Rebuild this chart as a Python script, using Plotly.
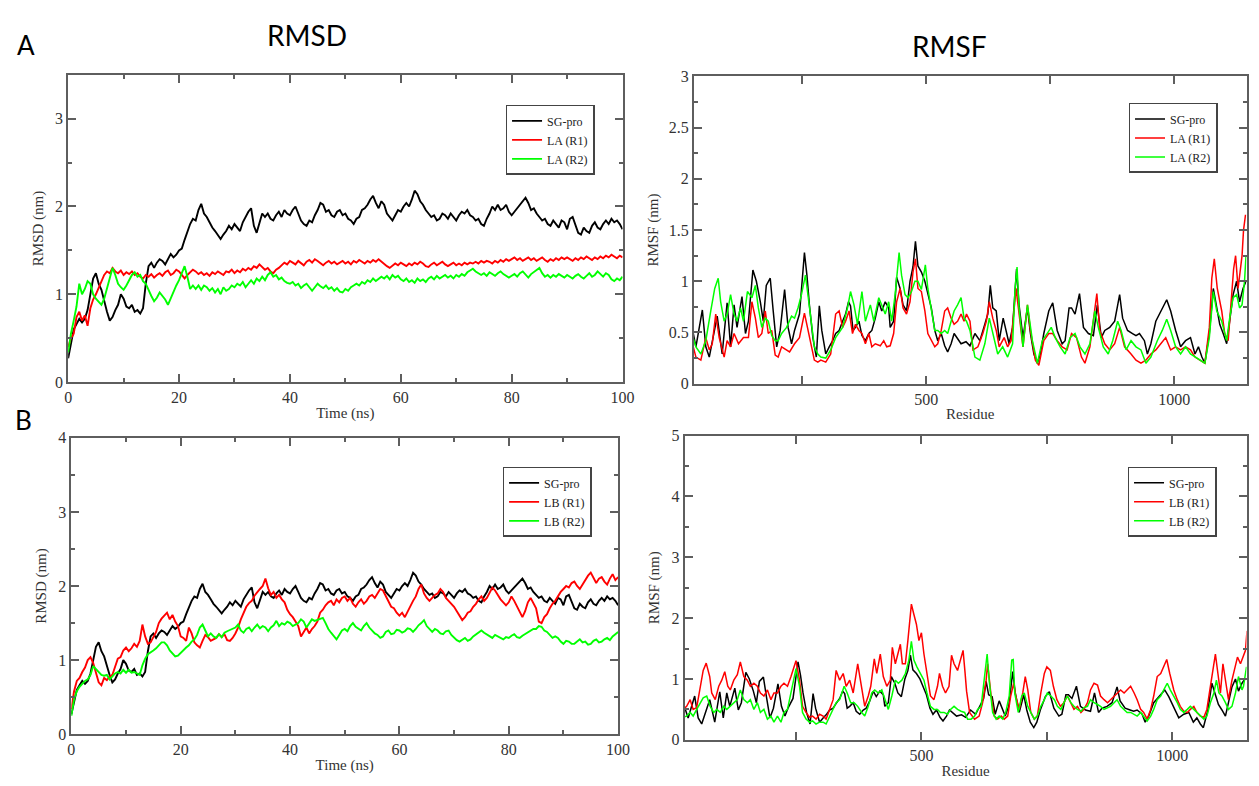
import plotly.graph_objects as go

# ---------------------------------------------------------------
# RMSD time series (nm), sampled every 0.5 ns from 0 to 100 ns
# ---------------------------------------------------------------
time_ns = [i * 0.5 for i in range(201)]

sg_pro_rmsd = [
    0.27, 0.45, 0.60, 0.66, 0.72, 0.68, 0.72, 0.82, 1.02, 1.18,
    1.24, 1.12, 1.05, 0.92, 0.80, 0.70, 0.74, 0.82, 0.88, 1.00,
    0.95, 0.86, 0.84, 0.88, 0.80, 0.82, 0.78, 0.84, 1.12, 1.32,
    1.36, 1.30, 1.36, 1.40, 1.38, 1.34, 1.40, 1.46, 1.42, 1.45,
    1.50, 1.52, 1.62, 1.72, 1.80, 1.86, 1.84, 1.96, 2.03, 1.92,
    1.88, 1.82, 1.76, 1.72, 1.68, 1.63, 1.68, 1.72, 1.78, 1.74,
    1.80, 1.76, 1.72, 1.82, 1.88, 1.94, 1.98, 1.78, 1.70, 1.82,
    1.92, 1.88, 1.92, 1.86, 1.84, 1.90, 1.94, 1.88, 1.96, 1.92,
    1.90, 1.96, 2.00, 1.92, 1.84, 1.80, 1.78, 1.84, 1.82, 1.90,
    1.96, 2.04, 2.02, 1.94, 1.96, 1.90, 1.88, 1.94, 1.96, 1.90,
    1.92, 1.86, 1.84, 1.80, 1.86, 1.88, 1.96, 1.98, 2.02, 2.08,
    2.12, 2.04, 1.98, 2.06, 2.02, 1.92, 1.88, 1.84, 1.90, 1.96,
    1.94, 2.00, 2.04, 2.00, 2.08, 2.18, 2.14, 2.06, 2.02, 1.96,
    1.92, 1.88, 1.90, 1.84, 1.86, 1.92, 1.90, 1.86, 1.92, 1.88,
    1.84, 1.90, 1.94, 1.92, 1.96, 1.90, 1.88, 1.84, 1.86, 1.80,
    1.78, 1.86, 1.92, 2.00, 1.96, 2.02, 1.96, 1.98, 2.02, 1.94,
    1.90, 1.94, 1.98, 2.02, 2.06, 2.10, 2.04, 1.96, 1.98, 1.92,
    1.88, 1.84, 1.86, 1.80, 1.78, 1.84, 1.80, 1.76, 1.84, 1.82,
    1.74, 1.86, 1.88, 1.78, 1.70, 1.68, 1.76, 1.72, 1.70, 1.78,
    1.82, 1.76, 1.74, 1.80, 1.84, 1.80, 1.86, 1.82, 1.84, 1.80,
    1.74,
]

la_r1_rmsd = [
    0.40, 0.50, 0.55, 0.74, 0.80, 0.70, 0.76, 0.64, 0.84, 0.94,
    1.00, 1.08, 1.16, 1.22, 1.26, 1.24, 1.30, 1.26, 1.24, 1.27,
    1.22, 1.25, 1.23, 1.26, 1.22, 1.24, 1.20, 1.18, 1.22, 1.20,
    1.23, 1.19, 1.22, 1.24, 1.21, 1.25, 1.27, 1.22, 1.24, 1.28,
    1.26, 1.22, 1.18, 1.22, 1.25, 1.28, 1.26, 1.23, 1.25, 1.22,
    1.24, 1.21, 1.25, 1.23, 1.26, 1.24, 1.22, 1.26, 1.25, 1.28,
    1.24, 1.27, 1.25, 1.29, 1.27, 1.30, 1.28, 1.32, 1.30, 1.34,
    1.31, 1.28, 1.30, 1.26, 1.24, 1.28, 1.30, 1.33, 1.36, 1.34,
    1.38, 1.36, 1.34, 1.38, 1.36, 1.33, 1.37, 1.39, 1.36, 1.40,
    1.38, 1.35, 1.33, 1.36, 1.38, 1.35, 1.37, 1.34, 1.36, 1.38,
    1.35, 1.37, 1.34, 1.38, 1.36, 1.39, 1.37, 1.35, 1.38, 1.36,
    1.39, 1.37, 1.40, 1.37, 1.35, 1.32, 1.30, 1.33, 1.35, 1.33,
    1.36, 1.34, 1.32, 1.35, 1.33, 1.36, 1.34, 1.37, 1.35, 1.32,
    1.31, 1.34, 1.36, 1.33, 1.35, 1.37, 1.34, 1.32, 1.34, 1.36,
    1.33, 1.35, 1.33, 1.36, 1.34, 1.36, 1.35, 1.37, 1.35, 1.38,
    1.36, 1.38, 1.37, 1.35, 1.38, 1.36, 1.39, 1.37, 1.40, 1.38,
    1.40, 1.42, 1.39, 1.41, 1.38, 1.40, 1.42, 1.39, 1.41, 1.38,
    1.40, 1.42, 1.39, 1.37, 1.40, 1.38, 1.41, 1.39, 1.42, 1.40,
    1.42, 1.40, 1.38, 1.41, 1.39, 1.42, 1.40, 1.43, 1.41, 1.39,
    1.42, 1.40, 1.43, 1.41, 1.44, 1.42, 1.45, 1.43, 1.41, 1.44,
    1.42,
]

la_r2_rmsd = [
    0.34, 0.55, 0.70, 0.86, 1.12, 1.00, 1.06, 1.15, 1.12, 1.00,
    0.95, 0.92, 0.88, 0.95, 1.06, 1.18, 1.30, 1.22, 1.12, 1.08,
    1.05, 1.10, 1.16, 1.22, 1.25, 1.20, 1.22, 1.15, 1.12, 1.04,
    0.98, 0.92, 0.96, 1.02, 0.98, 0.94, 0.88, 0.96, 1.04, 1.10,
    1.16, 1.24, 1.32, 1.20, 1.06, 1.10, 1.06, 1.10, 1.05, 1.10,
    1.08, 1.04, 1.07, 1.02, 1.06, 1.00, 1.08, 1.04, 1.06, 1.10,
    1.08, 1.12, 1.10, 1.14, 1.08, 1.12, 1.16, 1.12, 1.18, 1.15,
    1.20, 1.16, 1.22, 1.25, 1.20, 1.22, 1.17, 1.19, 1.15, 1.13,
    1.12, 1.14, 1.10, 1.12, 1.07, 1.10, 1.12, 1.08, 1.04, 1.08,
    1.12, 1.09, 1.07, 1.10, 1.06, 1.08, 1.04, 1.07, 1.03, 1.02,
    1.06, 1.04, 1.08, 1.10, 1.12, 1.10, 1.14, 1.12, 1.16, 1.14,
    1.18, 1.15, 1.17, 1.20, 1.18, 1.21, 1.17, 1.22, 1.19, 1.21,
    1.17, 1.15, 1.18, 1.14, 1.16, 1.13, 1.18, 1.15, 1.17, 1.14,
    1.18, 1.20, 1.17, 1.21, 1.18, 1.20, 1.22, 1.19, 1.21, 1.18,
    1.22, 1.20, 1.23, 1.21, 1.25, 1.27, 1.29, 1.26, 1.24, 1.22,
    1.24, 1.21, 1.25, 1.23, 1.21, 1.24, 1.26, 1.23, 1.21, 1.19,
    1.21, 1.23, 1.20, 1.24, 1.26, 1.22, 1.19, 1.23, 1.25, 1.28,
    1.30, 1.24, 1.20, 1.22, 1.19, 1.22, 1.20, 1.23, 1.21, 1.19,
    1.22, 1.20, 1.18, 1.21, 1.23, 1.20, 1.18, 1.21, 1.24, 1.20,
    1.22, 1.26, 1.23, 1.20, 1.24, 1.22, 1.17, 1.15, 1.18, 1.16,
    1.20,
]

lb_r1_rmsd = [
    0.34, 0.58, 0.72, 0.76, 0.84, 0.90, 1.00, 1.04, 0.96, 0.82,
    0.70, 0.66, 0.76, 0.73, 0.78, 0.80, 0.92, 1.02, 1.04, 1.13,
    1.17, 1.12, 1.16, 1.22, 1.18, 1.26, 1.48, 1.32, 1.22, 1.24,
    1.31, 1.38, 1.50, 1.56, 1.60, 1.64, 1.55, 1.61, 1.52, 1.46,
    1.32, 1.30, 1.26, 1.44, 1.36, 1.24, 1.20, 1.17, 1.26, 1.34,
    1.31, 1.26, 1.28, 1.30, 1.35, 1.31, 1.35, 1.27, 1.26, 1.30,
    1.36, 1.44, 1.55, 1.63, 1.72, 1.77, 1.80, 1.87, 1.92, 1.96,
    2.00, 2.10, 1.97, 1.88, 1.92, 1.84, 1.88, 1.82, 1.78, 1.68,
    1.62, 1.58, 1.52, 1.46, 1.32, 1.38, 1.44, 1.36, 1.42, 1.46,
    1.52, 1.64, 1.68, 1.74, 1.78, 1.80, 1.74, 1.82, 1.78, 1.84,
    1.86, 1.80, 1.84, 1.76, 1.72, 1.78, 1.82, 1.76, 1.80, 1.86,
    1.88, 1.84, 1.90, 1.96, 1.94, 1.86, 1.80, 1.72, 1.70, 1.64,
    1.60, 1.64, 1.58, 1.66, 1.74, 1.80, 1.86, 1.96, 2.02, 1.90,
    1.84, 1.80, 1.84, 1.88, 1.90, 1.96, 1.92, 1.84, 1.80, 1.76,
    1.72, 1.66, 1.60, 1.54, 1.58, 1.64, 1.66, 1.72, 1.76, 1.82,
    1.86, 1.80, 1.84, 1.92, 1.98, 1.94, 1.88, 1.82, 1.78, 1.74,
    1.78, 1.86, 1.80, 1.72, 1.64, 1.58, 1.66, 1.78, 1.84, 1.76,
    1.70, 1.52, 1.50, 1.58, 1.62, 1.70, 1.76, 1.80, 1.86, 1.92,
    1.96, 2.00, 1.98, 2.04, 2.06, 2.00, 1.96, 2.02, 2.08, 2.14,
    2.18, 2.10, 2.04, 2.10, 2.12, 2.06, 2.02, 2.10, 2.16, 2.08,
    2.12,
]

lb_r2_rmsd = [
    0.25, 0.47, 0.58, 0.64, 0.68, 0.72, 0.74, 0.80, 0.92, 0.88,
    0.84, 0.80, 0.79, 0.80, 0.74, 0.78, 0.82, 0.84, 0.82, 0.87,
    0.83, 0.87, 0.83, 0.84, 0.82, 0.80, 0.93, 1.02, 1.08, 1.10,
    1.13, 1.16, 1.20, 1.24, 1.24, 1.20, 1.13, 1.09, 1.05, 1.06,
    1.10, 1.13, 1.17, 1.20, 1.25, 1.28, 1.34, 1.44, 1.48, 1.40,
    1.32, 1.36, 1.32, 1.30, 1.35, 1.31, 1.37, 1.39, 1.41, 1.43,
    1.44, 1.48, 1.40, 1.37, 1.42, 1.44, 1.39, 1.44, 1.48, 1.43,
    1.46, 1.44, 1.39, 1.44, 1.47, 1.53, 1.46, 1.50, 1.48, 1.52,
    1.50, 1.46, 1.48, 1.50, 1.55, 1.52, 1.44, 1.50, 1.55, 1.53,
    1.54, 1.55, 1.57, 1.50, 1.42, 1.37, 1.33, 1.28, 1.34, 1.40,
    1.42, 1.39, 1.46, 1.50, 1.45, 1.42, 1.40, 1.46, 1.50, 1.44,
    1.40, 1.36, 1.34, 1.30, 1.32, 1.38, 1.40, 1.35, 1.36, 1.41,
    1.40, 1.37, 1.39, 1.43, 1.42, 1.38, 1.42, 1.47, 1.50, 1.54,
    1.46, 1.42, 1.38, 1.42, 1.40, 1.36, 1.35, 1.39, 1.40, 1.34,
    1.30, 1.27, 1.25, 1.28, 1.30, 1.26, 1.28, 1.32, 1.35, 1.38,
    1.40, 1.37, 1.35, 1.32, 1.30, 1.34, 1.32, 1.29, 1.28, 1.31,
    1.30, 1.33, 1.35, 1.31, 1.30, 1.33, 1.35, 1.38, 1.40, 1.42,
    1.42, 1.46, 1.45, 1.40, 1.38, 1.34, 1.30, 1.32, 1.30, 1.25,
    1.22, 1.26, 1.25, 1.22, 1.22, 1.25, 1.28, 1.24, 1.25, 1.21,
    1.22, 1.26, 1.28, 1.24, 1.25, 1.28, 1.30, 1.27, 1.32, 1.35,
    1.38,
]

# ---------------------------------------------------------------
# RMSF per residue (nm): (residue, value) pairs
# ---------------------------------------------------------------
sg_pro_rmsf = [
    (25, 0.61), (35, 0.36), (48, 0.72), (55, 0.36), (62, 0.26), (72, 0.52),
    (78, 0.66), (88, 0.29), (98, 0.79), (105, 0.36), (112, 0.77), (118, 0.55),
    (128, 0.85), (135, 0.49), (141, 0.61), (150, 1.11), (157, 1.00), (165, 0.80),
    (171, 0.61), (177, 0.96), (185, 1.03), (191, 0.71), (198, 0.36), (205, 0.52),
    (214, 0.92), (221, 0.55), (228, 0.39), (234, 0.52), (244, 0.68), (254, 1.28),
    (259, 1.06), (264, 0.77), (271, 0.45), (278, 0.26), (284, 0.76), (289, 0.52),
    (297, 0.29), (304, 0.36), (311, 0.42), (317, 0.49), (324, 0.52), (331, 0.61),
    (337, 0.68), (343, 0.80), (347, 0.76), (352, 0.52), (357, 0.55), (364, 0.61),
    (370, 0.47), (377, 0.42), (384, 0.49), (390, 0.52), (397, 0.64), (404, 0.80),
    (410, 0.71), (417, 0.80), (424, 0.74), (427, 0.55), (434, 0.61), (440, 1.04),
    (447, 0.93), (453, 0.77), (460, 0.71), (467, 1.00), (473, 1.14), (478, 1.39),
    (483, 1.15), (490, 1.09), (497, 1.00), (503, 0.88), (510, 0.74), (517, 0.52),
    (523, 0.42), (530, 0.49), (537, 0.37), (543, 0.31), (550, 0.39), (556, 0.49),
    (563, 0.44), (570, 0.39), (580, 0.41), (588, 0.37), (598, 0.49), (608, 0.42),
    (618, 0.58), (624, 0.68), (629, 0.96), (634, 0.74), (641, 0.71), (647, 0.42),
    (655, 0.64), (661, 0.52), (667, 0.39), (674, 0.55), (682, 1.12), (687, 0.77),
    (695, 0.45), (704, 0.74), (710, 0.49), (717, 0.29), (724, 0.20), (730, 0.29),
    (737, 0.49), (747, 0.71), (755, 0.79), (764, 0.52), (774, 0.39), (780, 0.42),
    (788, 0.74), (793, 0.74), (800, 0.68), (809, 0.88), (817, 0.55), (827, 0.49),
    (837, 0.47), (845, 0.77), (853, 0.45), (860, 0.52), (870, 0.55), (880, 0.61),
    (890, 0.87), (896, 0.64), (906, 0.52), (916, 0.49), (923, 0.47), (930, 0.49),
    (940, 0.42), (946, 0.29), (953, 0.39), (963, 0.61), (973, 0.71), (985, 0.82),
    (993, 0.71), (1003, 0.52), (1013, 0.36), (1023, 0.42), (1033, 0.45), (1042, 0.29),
    (1049, 0.36), (1056, 0.26), (1062, 0.20), (1071, 0.49), (1079, 0.93), (1086, 0.74),
    (1092, 0.58), (1099, 0.49), (1106, 0.39), (1112, 0.61), (1119, 0.87), (1126, 1.00),
    (1132, 0.80), (1139, 0.93), (1145, 1.00),
]

la_r1_rmsf = [
    (25, 0.45), (35, 0.26), (45, 0.23), (55, 0.45), (62, 0.33), (68, 0.39),
    (75, 0.68), (82, 0.45), (92, 0.26), (98, 0.42), (105, 0.36), (112, 0.49),
    (121, 0.39), (131, 0.45), (141, 0.45), (148, 0.80), (155, 0.64), (161, 0.45),
    (168, 0.49), (175, 0.71), (181, 0.49), (188, 0.52), (195, 0.28), (201, 0.26),
    (208, 0.36), (218, 0.33), (224, 0.31), (234, 0.39), (244, 0.45), (254, 0.69),
    (261, 0.52), (268, 0.36), (274, 0.23), (281, 0.21), (287, 0.23), (297, 0.21),
    (307, 0.29), (317, 0.68), (324, 0.71), (331, 0.55), (337, 0.61), (344, 0.71),
    (351, 0.49), (357, 0.58), (364, 0.52), (370, 0.49), (377, 0.39), (384, 0.49),
    (390, 0.36), (397, 0.39), (407, 0.37), (414, 0.42), (420, 0.36), (427, 0.37),
    (434, 0.49), (440, 0.80), (447, 0.93), (453, 0.74), (460, 0.68), (467, 0.80),
    (473, 1.09), (478, 1.22), (483, 0.93), (490, 0.90), (497, 0.71), (503, 0.49),
    (510, 0.42), (517, 0.36), (523, 0.39), (530, 0.52), (537, 0.71), (543, 0.74),
    (550, 0.64), (556, 0.58), (563, 0.61), (570, 0.68), (576, 0.61), (581, 0.68),
    (588, 0.61), (594, 0.33), (604, 0.36), (614, 0.49), (621, 0.61), (627, 0.80),
    (634, 0.64), (641, 0.52), (647, 0.36), (657, 0.45), (664, 0.36), (671, 0.42),
    (681, 0.93), (687, 0.68), (695, 0.36), (704, 0.77), (710, 0.52), (720, 0.23),
    (727, 0.18), (737, 0.42), (747, 0.49), (755, 0.49), (764, 0.42), (774, 0.36),
    (784, 0.33), (793, 0.49), (803, 0.45), (813, 0.26), (820, 0.20), (830, 0.36),
    (839, 0.68), (844, 0.88), (850, 0.52), (860, 0.39), (870, 0.33), (880, 0.39),
    (890, 0.55), (900, 0.36), (913, 0.29), (923, 0.23), (933, 0.20), (943, 0.23),
    (953, 0.29), (963, 0.33), (973, 0.39), (983, 0.45), (993, 0.33), (1003, 0.36),
    (1013, 0.33), (1023, 0.36), (1033, 0.33), (1042, 0.26), (1052, 0.23), (1062, 0.20),
    (1071, 0.55), (1076, 1.03), (1081, 1.22), (1087, 0.93), (1096, 0.71), (1102, 0.49),
    (1109, 0.42), (1116, 0.84), (1120, 1.12), (1124, 1.25), (1129, 0.93), (1133, 1.09),
    (1137, 1.25), (1140, 1.50), (1144, 1.65),
]

la_r2_rmsf = [
    (25, 0.52), (35, 0.36), (45, 0.29), (55, 0.42), (65, 0.71), (73, 0.93),
    (80, 1.03), (85, 0.80), (92, 0.61), (98, 0.68), (105, 0.87), (112, 0.68),
    (118, 0.61), (125, 0.74), (131, 0.61), (139, 0.90), (148, 0.84), (155, 0.96),
    (161, 0.74), (168, 0.55), (175, 0.64), (181, 0.61), (188, 0.47), (195, 0.42),
    (201, 0.42), (208, 0.49), (218, 0.55), (228, 0.66), (234, 0.64), (241, 0.74),
    (248, 0.87), (256, 1.06), (261, 0.87), (268, 0.61), (274, 0.36), (281, 0.29),
    (287, 0.26), (297, 0.25), (307, 0.33), (317, 0.45), (331, 0.55), (341, 0.74),
    (347, 0.90), (354, 0.77), (361, 0.58), (370, 0.90), (377, 0.61), (387, 0.77),
    (394, 0.61), (404, 0.84), (410, 0.77), (417, 0.68), (424, 0.80), (430, 0.61),
    (437, 0.87), (445, 1.28), (450, 1.06), (457, 0.87), (463, 0.84), (470, 0.90),
    (477, 1.00), (483, 1.00), (490, 0.92), (498, 1.16), (503, 0.93), (510, 0.71),
    (517, 0.52), (523, 0.52), (530, 0.49), (537, 0.52), (543, 0.49), (550, 0.61),
    (556, 0.71), (563, 0.77), (570, 0.84), (576, 0.64), (581, 0.61), (588, 0.52),
    (598, 0.26), (608, 0.23), (618, 0.39), (627, 0.64), (634, 0.49), (644, 0.29),
    (654, 0.36), (664, 0.26), (674, 0.39), (679, 0.93), (683, 1.14), (687, 0.74),
    (695, 0.36), (704, 0.77), (714, 0.42), (724, 0.20), (734, 0.42), (744, 0.49),
    (752, 0.55), (760, 0.45), (770, 0.36), (780, 0.29), (790, 0.45), (800, 0.49),
    (810, 0.36), (820, 0.29), (830, 0.39), (840, 0.71), (847, 0.55), (857, 0.36),
    (867, 0.29), (876, 0.42), (886, 0.61), (893, 0.52), (903, 0.33), (913, 0.42),
    (923, 0.36), (933, 0.33), (943, 0.20), (953, 0.26), (966, 0.42), (976, 0.52),
    (985, 0.63), (993, 0.52), (1003, 0.36), (1013, 0.29), (1023, 0.36), (1033, 0.29),
    (1042, 0.26), (1052, 0.23), (1062, 0.20), (1071, 0.45), (1079, 0.90), (1086, 0.71),
    (1096, 0.61), (1106, 0.42), (1112, 0.64), (1119, 0.84), (1126, 0.87), (1132, 0.74),
    (1137, 0.77), (1142, 1.00), (1145, 1.25),
]

lb_r1_rmsf = [
    (25, 0.50), (32, 0.55), (39, 0.66), (45, 0.50), (52, 0.53), (59, 0.88),
    (65, 1.14), (71, 1.26), (78, 1.04), (82, 0.77), (89, 0.66), (96, 0.88),
    (102, 0.98), (108, 1.12), (114, 0.88), (119, 0.82), (126, 0.98), (133, 1.07),
    (139, 1.28), (146, 1.04), (153, 0.98), (159, 0.88), (166, 0.93), (173, 0.88),
    (179, 0.77), (186, 0.72), (193, 0.82), (200, 0.66), (206, 0.77), (213, 0.77),
    (220, 0.88), (226, 0.93), (233, 0.88), (240, 1.04), (250, 1.30), (257, 0.98),
    (263, 0.55), (270, 0.45), (277, 0.37), (283, 0.39), (290, 0.34), (297, 0.42),
    (304, 0.39), (310, 0.34), (317, 0.50), (324, 0.66), (330, 1.14), (337, 0.98),
    (344, 1.09), (350, 0.88), (357, 0.98), (364, 0.77), (373, 1.25), (381, 0.88),
    (387, 0.55), (394, 0.72), (399, 0.88), (406, 1.33), (411, 1.09), (418, 1.41),
    (424, 1.04), (431, 0.88), (438, 0.98), (442, 1.52), (448, 1.25), (453, 1.41),
    (458, 1.57), (462, 1.25), (468, 1.25), (473, 1.63), (480, 2.23), (485, 2.06),
    (490, 1.90), (495, 1.63), (500, 1.76), (505, 1.41), (511, 1.09), (518, 0.72),
    (525, 0.66), (532, 0.88), (536, 1.09), (542, 0.88), (548, 0.77), (555, 0.88),
    (560, 1.39), (565, 1.25), (572, 1.14), (578, 1.30), (583, 1.47), (587, 1.10),
    (590, 0.80), (596, 0.45), (606, 0.34), (615, 0.39), (622, 0.61), (629, 0.98),
    (632, 1.25), (639, 0.72), (645, 0.39), (652, 0.34), (659, 0.39), (665, 0.34),
    (672, 0.39), (678, 0.72), (684, 0.93), (688, 0.72), (695, 0.50), (702, 0.77),
    (707, 1.04), (712, 0.82), (718, 0.45), (725, 0.34), (731, 0.39), (738, 0.77),
    (745, 1.09), (750, 1.20), (757, 1.14), (763, 0.88), (770, 0.66), (777, 0.55),
    (784, 0.61), (791, 0.72), (798, 0.61), (804, 0.50), (811, 0.55), (818, 0.45),
    (824, 0.50), (831, 0.61), (837, 0.82), (844, 0.93), (851, 0.90), (857, 0.72),
    (864, 0.66), (871, 0.61), (877, 0.66), (884, 0.72), (890, 0.77), (897, 0.82),
    (904, 0.77), (910, 0.82), (917, 0.88), (924, 0.77), (930, 0.66), (937, 0.50),
    (943, 0.45), (950, 0.34), (957, 0.50), (963, 0.72), (970, 1.04), (977, 1.09),
    (983, 1.20), (989, 1.32), (995, 1.09), (1003, 0.82), (1010, 0.66), (1016, 0.55),
    (1023, 0.47), (1030, 0.45), (1036, 0.50), (1043, 0.55), (1049, 0.45), (1056, 0.39),
    (1063, 0.37), (1069, 0.50), (1076, 0.88), (1081, 1.14), (1086, 1.41), (1091, 1.09),
    (1096, 0.77), (1101, 1.25), (1106, 0.98), (1112, 0.66), (1119, 0.98), (1126, 1.20),
    (1130, 1.36), (1136, 1.25), (1141, 1.36), (1146, 1.47), (1149, 1.79),
]

lb_r2_rmsf = [
    (25, 0.37), (32, 0.39), (39, 0.45), (45, 0.39), (52, 0.50), (59, 0.61),
    (65, 0.69), (72, 0.72), (79, 0.55), (86, 0.45), (92, 0.50), (99, 0.45),
    (106, 0.55), (112, 0.50), (119, 0.55), (126, 0.61), (133, 0.66), (139, 0.82),
    (146, 0.66), (153, 0.61), (159, 0.66), (166, 0.50), (173, 0.61), (179, 0.45),
    (186, 0.50), (193, 0.34), (200, 0.39), (206, 0.29), (213, 0.39), (220, 0.29),
    (226, 0.45), (233, 0.50), (240, 0.77), (250, 1.17), (257, 0.88), (263, 0.45),
    (270, 0.34), (277, 0.29), (283, 0.31), (290, 0.26), (297, 0.29), (304, 0.29),
    (310, 0.26), (317, 0.39), (324, 0.50), (330, 0.61), (337, 0.66), (346, 0.88),
    (352, 0.77), (359, 0.61), (366, 0.61), (373, 0.55), (381, 0.45), (387, 0.39),
    (394, 0.55), (401, 0.77), (407, 0.82), (414, 0.77), (421, 0.82), (428, 0.66),
    (434, 0.50), (441, 0.72), (448, 0.98), (454, 0.93), (461, 0.98), (468, 1.09),
    (475, 1.31), (480, 1.62), (485, 1.31), (491, 1.20), (498, 1.09), (505, 0.98),
    (511, 0.77), (518, 0.55), (525, 0.50), (532, 0.50), (538, 0.45), (545, 0.45),
    (552, 0.42), (558, 0.50), (565, 0.55), (572, 0.50), (579, 0.47), (586, 0.45),
    (592, 0.34), (599, 0.34), (606, 0.39), (612, 0.50), (619, 0.55), (625, 0.98),
    (631, 1.41), (635, 0.98), (642, 0.45), (649, 0.34), (655, 0.39), (662, 0.34),
    (668, 0.45), (675, 0.72), (680, 1.31), (683, 1.32), (686, 0.77), (693, 0.45),
    (700, 0.72), (705, 0.77), (712, 0.55), (718, 0.45), (725, 0.34), (731, 0.39),
    (738, 0.55), (745, 0.66), (751, 0.77), (758, 0.72), (765, 0.66), (771, 0.55),
    (778, 0.50), (784, 0.61), (791, 0.72), (798, 0.61), (804, 0.55), (811, 0.50),
    (818, 0.47), (824, 0.53), (831, 0.55), (837, 0.66), (844, 0.61), (851, 0.58),
    (857, 0.55), (864, 0.50), (871, 0.53), (877, 0.55), (884, 0.61), (890, 0.66),
    (897, 0.55), (904, 0.50), (910, 0.45), (917, 0.45), (924, 0.42), (930, 0.39),
    (937, 0.45), (943, 0.39), (950, 0.31), (957, 0.39), (963, 0.50), (970, 0.66),
    (977, 0.72), (983, 0.82), (990, 0.93), (996, 0.82), (1003, 0.72), (1010, 0.61),
    (1016, 0.50), (1023, 0.45), (1030, 0.50), (1036, 0.55), (1043, 0.50), (1049, 0.45),
    (1056, 0.39), (1063, 0.34), (1069, 0.39), (1076, 0.61), (1083, 0.77), (1088, 0.98),
    (1093, 0.77), (1099, 0.72), (1106, 0.61), (1112, 0.50), (1119, 0.55), (1126, 0.77),
    (1132, 1.04), (1139, 0.82), (1142, 0.88), (1148, 1.20),
]

# Series names and colours (xmgrace-style palette)
names_a = ["SG-pro", "LA (R1)", "LA (R2)"]
names_b = ["SG-pro", "LB (R1)", "LB (R2)"]
colors = ["#000000", "#ff0000", "#00ff00"]

W, H = 1259, 786
SERIF = "Liberation Serif, Times New Roman, serif"
AXIS_COL = "#5e5e5e"


def px(x):
    return x / W


def py(y):
    return 1 - y / H


def unzip(pairs):
    return [p[0] for p in pairs], [p[1] for p in pairs]


fig = go.Figure()

panels = [
    # (xaxis id, yaxis id, legend id, names, series, is_rmsf, width)
    ("x", "y", "legend", names_a, [sg_pro_rmsd, la_r1_rmsd, la_r2_rmsd], False, 1.9),
    ("x2", "y2", "legend2", names_a, [sg_pro_rmsf, la_r1_rmsf, la_r2_rmsf], True, 1.5),
    ("x3", "y3", "legend3", names_b, [sg_pro_rmsd, lb_r1_rmsd, lb_r2_rmsd], False, 1.9),
    ("x4", "y4", "legend4", names_b, [sg_pro_rmsf, lb_r1_rmsf, lb_r2_rmsf], True, 1.5),
]

for xa, ya, lg, names, series, is_rmsf, lw in panels:
    for name, data, col in zip(names, series, colors):
        if is_rmsf:
            xs, ys = unzip(data)
        else:
            xs, ys = time_ns, data
        fig.add_trace(go.Scatter(
            x=xs, y=ys, mode="lines", name=name, legend=lg,
            line=dict(color=col, width=lw),
            xaxis=xa, yaxis=ya,
        ))


def axis(domain, rng, tickvals, ticktext, minor_vals, title, anchor, standoff):
    return dict(
        domain=domain, range=rng, anchor=anchor,
        showline=True, mirror="allticks", linecolor=AXIS_COL, linewidth=2,
        ticks="inside", ticklen=8, tickwidth=1.6, tickcolor=AXIS_COL,
        tickmode="array", tickvals=tickvals, ticktext=ticktext,
        tickfont=dict(family=SERIF, size=16, color="#333333"),
        showgrid=False, zeroline=False,
        minor=dict(ticks="inside", ticklen=4, tickwidth=1.6, tickcolor=AXIS_COL,
                   tickmode="array", tickvals=minor_vals, showgrid=False),
        title=dict(text=title, standoff=standoff,
                   font=dict(family=SERIF, size=15, color="#333333")),
    )


t_ticks = [0, 20, 40, 60, 80, 100]
t_minor = [10, 30, 50, 70, 90]
res_ticks = [250, 500, 750, 1000]
res_text = ["", "500", "", "1000"]

layout = dict(
    width=W, height=H,
    margin=dict(l=0, r=0, t=0, b=0),
    paper_bgcolor="white", plot_bgcolor="white",
    font=dict(family=SERIF, size=15, color="#333333"),
    showlegend=True,
    xaxis=axis([px(65), px(626.5)], [0, 100], t_ticks, [str(v) for v in t_ticks],
               t_minor, "Time (ns)", "y", 2),
    yaxis=axis([py(382.3), py(68.3)], [0, 3.5], [0, 1, 2, 3], ["0", "1", "2", "3"],
               [0.5, 1.5, 2.5], "RMSD (nm)", "x", 8),
    xaxis2=axis([px(698.8), px(1258.5)], [31, 1146], res_ticks, res_text,
                [], "Residue", "y2", 2),
    yaxis2=axis([py(384), py(70)], [0, 3], [0, 0.5, 1, 1.5, 2, 2.5, 3],
                ["0", "0.5", "1", "1.5", "2", "2.5", "3"],
                [0.25, 0.75, 1.25, 1.75, 2.25, 2.75], "RMSF (nm)", "x2", 6),
    xaxis3=axis([px(68.2), px(622)], [0, 100], t_ticks, [str(v) for v in t_ticks],
                t_minor, "Time (ns)", "y3", 2),
    yaxis3=axis([py(742.3), py(439.3)], [0, 4], [0, 1, 2, 3, 4],
                ["0", "1", "2", "3", "4"], [0.5, 1.5, 2.5, 3.5], "RMSD (nm)", "x3", 8),
    xaxis4=axis([px(689.4), px(1258.5)], [28, 1148], res_ticks, res_text,
                [], "Residue", "y4", 2),
    yaxis4=axis([py(748), py(437)], [0, 5], [0, 1, 2, 3, 4, 5],
                ["0", "1", "2", "3", "4", "5"], [0.5, 1.5, 2.5, 3.5, 4.5],
                "RMSF (nm)", "x4", 8),
)


def legend_box(x, y):
    return dict(
        x=px(x), y=py(y), xanchor="left", yanchor="top",
        bgcolor="white", bordercolor="#444444", borderwidth=1.5,
        font=dict(family=SERIF, size=12, color="#222222"),
        tracegroupgap=0, itemwidth=30,
    )


layout["legend"] = legend_box(508, 99)
layout["legend2"] = legend_box(1139, 97)
layout["legend3"] = legend_box(505, 469)
layout["legend4"] = legend_box(1138, 469)

title_font = "Lato"
layout["annotations"] = [
    dict(text=txt, x=px(cx), y=py(cy), xref="paper", yref="paper",
         xanchor="center", yanchor="middle", showarrow=False,
         font=dict(family=title_font, size=sz, color="#000000"))
    for txt, cx, cy, sz in [
        ("A", 22, 38, 26),
        ("RMSD", 307, 28, 28),
        ("RMSF", 958, 39, 28),
        ("B", 20, 421, 26),
    ]
]

fig.update_layout(**layout)
fig.write_html("out.html")
